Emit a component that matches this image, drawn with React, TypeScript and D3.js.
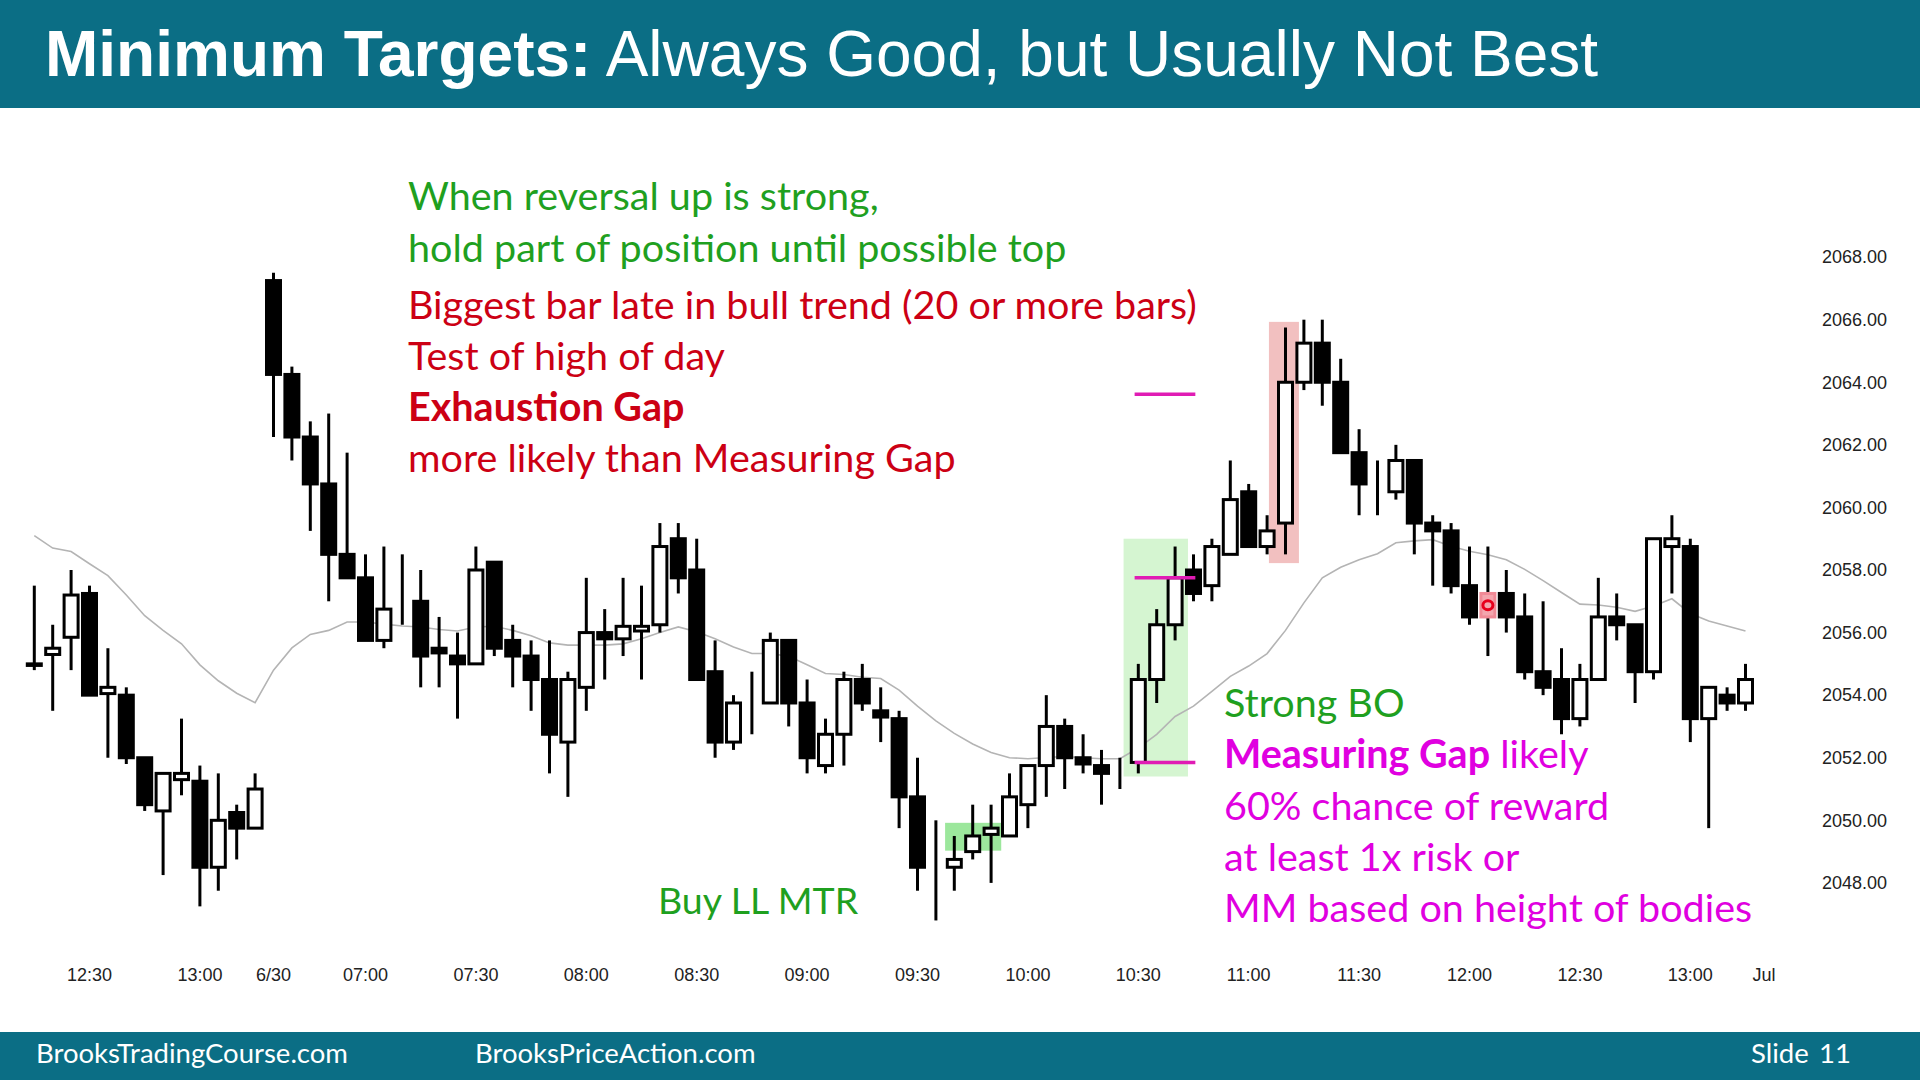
import React from 'react'
import * as d3 from 'd3'

// 5-min bars: [open, high, low, close]; 0-12 = 6/29 12:15-13:15, 13-93 = 6/30 06:35-13:15
const candles: [number, number, number, number][] = [
  [2055.0, 2057.5, 2054.8, 2054.95],
  [2055.3, 2056.25, 2053.5, 2055.5],
  [2055.85, 2058.0, 2054.8, 2057.2],
  [2057.25, 2057.5, 2054.0, 2054.0],
  [2054.05, 2055.5, 2052.0, 2054.25],
  [2054.0, 2054.25, 2051.8, 2052.0],
  [2052.0, 2052.0, 2050.3, 2050.5],
  [2050.3, 2051.5, 2048.25, 2051.5],
  [2051.3, 2053.25, 2050.8, 2051.5],
  [2051.25, 2051.75, 2047.25, 2048.5],
  [2048.5, 2051.5, 2047.75, 2050.0],
  [2050.25, 2050.5, 2048.75, 2049.75],
  [2049.75, 2051.5, 2049.75, 2051.0],
  [2067.25, 2067.5, 2062.25, 2064.25],
  [2064.25, 2064.5, 2061.5, 2062.25],
  [2062.25, 2062.75, 2059.25, 2060.75],
  [2060.75, 2063.0, 2057.0, 2058.5],
  [2058.5, 2061.75, 2057.75, 2057.75],
  [2057.75, 2058.5, 2055.75, 2055.75],
  [2055.75, 2058.75, 2055.5, 2056.75],
  [2056.75, 2058.5, 2056.25, 2056.75],
  [2057.0, 2058.0, 2054.25, 2055.25],
  [2055.5, 2056.5, 2054.25, 2055.35],
  [2055.25, 2056.0, 2053.25, 2055.0],
  [2055.0, 2058.75, 2055.0, 2058.0],
  [2058.25, 2058.25, 2055.25, 2055.5],
  [2055.75, 2056.25, 2054.25, 2055.25],
  [2055.25, 2055.75, 2053.5, 2054.5],
  [2054.5, 2055.75, 2051.5, 2052.75],
  [2052.5, 2054.75, 2050.75, 2054.5],
  [2054.25, 2057.75, 2053.5, 2056.0],
  [2056.0, 2056.75, 2054.5, 2055.8],
  [2055.8, 2057.75, 2055.25, 2056.2],
  [2056.05, 2057.5, 2054.5, 2056.2],
  [2056.25, 2059.5, 2056.0, 2058.75],
  [2059.0, 2059.5, 2057.25, 2057.75],
  [2058.0, 2059.0, 2054.5, 2054.5],
  [2054.75, 2055.75, 2052.0, 2052.5],
  [2052.5, 2054.0, 2052.25, 2053.75],
  [2053.75, 2054.75, 2052.75, 2053.75],
  [2053.75, 2056.0, 2053.75, 2055.75],
  [2055.75, 2055.75, 2053.0, 2053.75],
  [2053.75, 2054.5, 2051.5, 2052.0],
  [2051.75, 2053.25, 2051.5, 2052.75],
  [2052.75, 2054.75, 2051.75, 2054.5],
  [2054.5, 2055.0, 2053.5, 2053.75],
  [2053.5, 2054.25, 2052.5, 2053.3],
  [2053.25, 2053.5, 2049.75, 2050.75],
  [2050.75, 2052.0, 2047.75, 2048.5],
  [2048.5, 2050.0, 2046.8, 2048.5],
  [2048.5, 2049.5, 2047.75, 2048.75],
  [2049.0, 2050.5, 2048.75, 2049.5],
  [2049.55, 2050.5, 2048.0, 2049.75],
  [2049.5, 2051.5, 2049.5, 2050.75],
  [2050.5, 2051.75, 2049.75, 2051.75],
  [2051.75, 2054.0, 2050.75, 2053.0],
  [2053.0, 2053.25, 2051.0, 2052.0],
  [2052.0, 2052.75, 2051.5, 2051.8],
  [2051.75, 2052.25, 2050.5, 2051.5],
  [2051.75, 2052.0, 2051.0, 2051.75],
  [2051.85, 2055.0, 2051.5, 2054.5],
  [2054.5, 2056.75, 2053.75, 2056.25],
  [2056.25, 2058.75, 2055.75, 2057.75],
  [2058.0, 2058.5, 2057.0, 2057.25],
  [2057.5, 2059.0, 2057.0, 2058.75],
  [2058.5, 2061.5, 2058.5, 2060.25],
  [2060.5, 2060.75, 2058.75, 2058.75],
  [2058.75, 2059.75, 2058.5, 2059.25],
  [2059.5, 2065.75, 2058.5, 2064.0],
  [2064.0, 2066.0, 2063.75, 2065.25],
  [2065.25, 2066.0, 2063.25, 2064.0],
  [2064.0, 2064.75, 2061.75, 2061.75],
  [2061.75, 2062.5, 2059.75, 2060.75],
  [2060.75, 2061.5, 2059.75, 2060.75],
  [2060.5, 2062.0, 2060.25, 2061.5],
  [2061.5, 2061.5, 2058.5, 2059.5],
  [2059.5, 2059.75, 2057.5, 2059.25],
  [2059.25, 2059.5, 2057.25, 2057.5],
  [2057.5, 2058.75, 2056.25, 2056.5],
  [2056.5, 2058.75, 2055.25, 2057.25],
  [2057.25, 2058.0, 2056.0, 2056.5],
  [2056.5, 2057.25, 2054.5, 2054.75],
  [2054.75, 2057.0, 2054.0, 2054.25],
  [2054.5, 2055.5, 2052.75, 2053.25],
  [2053.25, 2055.0, 2053.0, 2054.5],
  [2054.5, 2057.75, 2054.5, 2056.5],
  [2056.5, 2057.25, 2055.75, 2056.25],
  [2056.25, 2056.25, 2053.75, 2054.75],
  [2054.75, 2059.0, 2054.5, 2059.0],
  [2058.75, 2059.75, 2057.25, 2059.0],
  [2058.75, 2059.0, 2052.5, 2053.25],
  [2053.25, 2054.25, 2049.75, 2054.25],
  [2054.0, 2054.25, 2053.5, 2053.75],
  [2053.75, 2055.0, 2053.5, 2054.5],
]

// 20-bar EMA
const ema = [
  2059.1, 2058.7, 2058.59, 2058.2, 2057.82, 2057.2, 2056.54, 2056.07, 2055.64, 2054.97,
  2054.46, 2054.06, 2053.76, 2054.8, 2055.51, 2055.94, 2056.07, 2056.34, 2056.34, 2056.27,
  2056.21, 2056.18, 2056.1, 2056.05, 2056.18, 2056.2, 2056.07, 2055.9, 2055.67, 2055.6,
  2055.6, 2055.6, 2055.64, 2055.8, 2056.0, 2056.18, 2056.03, 2055.8, 2055.54, 2055.33,
  2055.33, 2055.24, 2054.97, 2054.69, 2054.66, 2054.57, 2054.53, 2054.16, 2053.65, 2053.18,
  2052.78, 2052.44, 2052.17, 2052.0, 2051.97, 2052.01, 2052.04, 2052.0, 2051.97, 2051.97,
  2052.31, 2052.75, 2053.32, 2053.65, 2054.12, 2054.6, 2054.93, 2055.33, 2056.07, 2056.95,
  2057.75, 2058.09, 2058.33, 2058.52, 2058.87, 2058.93, 2058.97, 2058.76, 2058.6, 2058.49,
  2058.33, 2058.02, 2057.66, 2057.28, 2056.91, 2056.88, 2056.81, 2056.68, 2056.85, 2057.08,
  2056.61, 2056.37, 2056.21, 2056.05,
]

const tickBars = [3, 9, 13, 18, 24, 30, 36, 42, 48, 54, 60, 66, 72, 78, 84, 90, 94]
const tickLabels = ['12:30', '13:00', '6/30', '07:00', '07:30', '08:00', '08:30', '09:00', '09:30', '10:00', '10:30', '11:00', '11:30', '12:00', '12:30', '13:00', 'Jul']
const priceTicks = [2068, 2066, 2064, 2062, 2060, 2058, 2056, 2054, 2052, 2050, 2048]

// highlight boxes: [fromBar, toBar, lowPrice, highPrice]
const bigBoBox: [number, number, number, number] = [59.2, 62.7, 2051.4, 2059.0]
const mtrBox: [number, number, number, number] = [49.5, 52.55, 2049.03, 2049.92]
const exhaustionBox: [number, number, number, number] = [67.1, 68.73, 2058.22, 2065.93]
// measured move lines: [fromBar, toBar, price]
const mmLines: [number, number, number][] = [
  [59.8, 63.1, 2063.62],
  [59.8, 63.1, 2057.75],
  [59.8, 63.1, 2051.85],
]
const signalBar = 79

const GREEN = '#1fa01f'
const RED = '#cc0014'
const MAGENTA = '#e000e0'
const TEAL = '#0b6e85'
const NOTE_FONT = 'Lato, "Open Sans", sans-serif'
const AXIS_FONT = '"Liberation Sans", Arial, sans-serif'

export default function App() {
  const width = 1920
  const height = 1080

  const x = d3.scaleLinear().domain([0, 93]).range([34.3, 1745.5])
  const y = d3.scaleLinear().domain([2048, 2068]).range([882.9, 257.1])

  const bodyW = 14
  const emaLine = d3
    .line<number>()
    .x((d, i) => x(i))
    .y((d) => y(d))

  const box = (b: [number, number, number, number], fill: string, key: string) => (
    <rect
      key={key}
      x={x(b[0])}
      y={y(b[3])}
      width={x(b[1]) - x(b[0])}
      height={y(b[2]) - y(b[3])}
      fill={fill}
    />
  )

  return (
    <svg
      width={width}
      height={height}
      style={{ position: 'absolute', left: 0, top: 0, display: 'block', background: '#fff' }}
    >
      <rect x={0} y={0} width={width} height={height} fill="#ffffff" />

      {/* header */}
      <rect x={0} y={0} width={width} height={108} fill={TEAL} />
      <text x={45} y={76} fill="#fff" fontFamily={AXIS_FONT} fontSize={64}>
        <tspan fontWeight="bold">Minimum Targets:</tspan>
        <tspan> Always Good, but Usually Not Best</tspan>
      </text>

      {/* shaded areas */}
      {box(bigBoBox, 'rgba(150,230,140,0.4)', 'bo')}
      {box(mtrBox, 'rgba(90,215,90,0.6)', 'mtr')}
      {box(exhaustionBox, 'rgba(232,140,140,0.55)', 'ex')}

      {/* EMA */}
      <path d={emaLine(ema) || ''} fill="none" stroke="#b4b4b4" strokeWidth={1.6} />

      {/* candles */}
      {candles.map(([o, h, l, c], i) => {
        const up = c > o
        const top = y(Math.max(o, c))
        const bot = y(Math.min(o, c))
        const isSignal = i === signalBar
        return (
          <g key={i}>
            <line x1={x(i)} x2={x(i)} y1={y(h)} y2={y(l)} stroke="#000" strokeWidth={3} />
            <rect
              x={x(i) - bodyW / 2}
              y={top}
              width={bodyW}
              height={Math.max(bot - top, 0)}
              fill={isSignal ? '#f3a6ae' : up ? '#fff' : '#000'}
              stroke={isSignal ? '#f08a96' : '#000'}
              strokeWidth={3}
            />
            {isSignal && (
              <ellipse
                cx={x(i)}
                cy={(top + bot) / 2}
                rx={5}
                ry={4.5}
                fill="none"
                stroke="#e8001c"
                strokeWidth={3}
              />
            )}
          </g>
        )
      })}

      {/* measured move lines */}
      {mmLines.map(([a, b, p], i) => (
        <line key={i} x1={x(a)} x2={x(b)} y1={y(p)} y2={y(p)} stroke="#e01cb4" strokeWidth={3.5} />
      ))}

      {/* price axis */}
      {priceTicks.map((p) => (
        <text key={p} x={1822} y={y(p)} dy="0.35em" fontFamily={AXIS_FONT} fontSize={18} fill="#222">
          {p.toFixed(2)}
        </text>
      ))}

      {/* time axis */}
      {tickBars.map((b, i) => (
        <text
          key={b}
          x={x(b)}
          y={981}
          textAnchor="middle"
          fontFamily={AXIS_FONT}
          fontSize={18}
          fill="#222"
        >
          {tickLabels[i]}
        </text>
      ))}

      {/* notes */}
      <g fontFamily={NOTE_FONT} fontSize={39.5}>
        <text x={408} y={210} fill={GREEN}>When reversal up is strong,</text>
        <text x={408} y={262} fill={GREEN}>hold part of position until possible top</text>
        <text x={408} y={319} fill={RED}>Biggest bar late in bull trend (20 or more bars)</text>
        <text x={408} y={370} fill={RED}>Test of high of day</text>
        <text x={408} y={421} fill={RED} fontWeight="bold">Exhaustion Gap</text>
        <text x={408} y={472} fill={RED}>more likely than Measuring Gap</text>
        <text x={658} y={914} fill={GREEN} fontSize={37.5}>Buy LL MTR</text>
        <text x={1224} y={717} fill={GREEN}>Strong BO</text>
        <text x={1224} y={768} fill={MAGENTA}>
          <tspan fontWeight="bold">Measuring Gap</tspan>
          <tspan> likely</tspan>
        </text>
        <text x={1224} y={820} fill={MAGENTA}>60% chance of reward</text>
        <text x={1224} y={871} fill={MAGENTA}>at least 1x risk or</text>
        <text x={1224} y={922} fill={MAGENTA}>MM based on height of bodies</text>
      </g>

      {/* footer */}
      <rect x={0} y={1032} width={width} height={48} fill={TEAL} />
      <g fontFamily={NOTE_FONT} fontSize={27.5} fill="#fff">
        <text x={36} y={1063}>BrooksTradingCourse.com</text>
        <text x={475} y={1063}>BrooksPriceAction.com</text>
        <text x={1751} y={1063}>Slide</text>
        <text x={1851} y={1063} textAnchor="end">11</text>
      </g>
    </svg>
  )
}
